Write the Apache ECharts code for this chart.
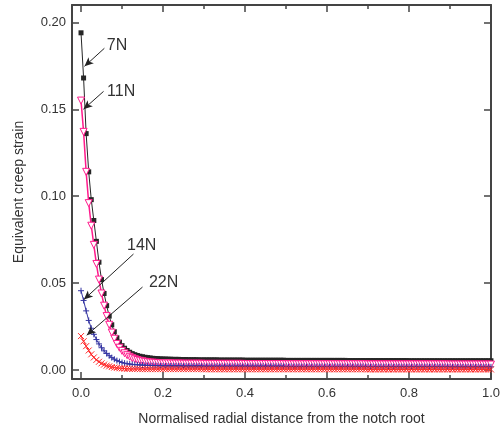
<!DOCTYPE html>
<html>
<head>
<meta charset="utf-8">
<script src="https://cdn.jsdelivr.net/npm/echarts@6/dist/echarts.min.js"></script>
<style>
html,body{margin:0;padding:0;background:#fff;}
#chart{width:503px;height:434px;}
</style>
</head>
<body>
<div id="chart"></div>
<script>
// Normalised radial distance (x) shared by all series
const xs = [
0,0.00625,0.0125,0.01875,0.025,0.03125,0.0375,0.04375,0.05,0.05625,0.0625,0.06875,0.075,0.08125,0.0875,0.09375,
0.1,0.10625,0.1125,0.11875,0.125,0.13125,0.1375,0.14375,0.15,0.15625,0.1625,0.16875,0.175,0.18125,0.1875,0.19375,
0.2,0.20625,0.2125,0.21875,0.225,0.23125,0.2375,0.24375,0.25,0.25625,0.2625,0.26875,0.275,0.28125,0.2875,0.29375,
0.3,0.30625,0.3125,0.31875,0.325,0.33125,0.3375,0.34375,0.35,0.35625,0.3625,0.36875,0.375,0.38125,0.3875,0.39375,
0.4,0.40625,0.4125,0.41875,0.425,0.43125,0.4375,0.44375,0.45,0.45625,0.4625,0.46875,0.475,0.48125,0.4875,0.49375,
0.5,0.50625,0.5125,0.51875,0.525,0.53125,0.5375,0.54375,0.55,0.55625,0.5625,0.56875,0.575,0.58125,0.5875,0.59375,
0.6,0.60625,0.6125,0.61875,0.625,0.63125,0.6375,0.64375,0.65,0.65625,0.6625,0.66875,0.675,0.68125,0.6875,0.69375,
0.7,0.70625,0.7125,0.71875,0.725,0.73125,0.7375,0.74375,0.75,0.75625,0.7625,0.76875,0.775,0.78125,0.7875,0.79375,
0.8,0.80625,0.8125,0.81875,0.825,0.83125,0.8375,0.84375,0.85,0.85625,0.8625,0.86875,0.875,0.88125,0.8875,0.89375,
0.9,0.90625,0.9125,0.91875,0.925,0.93125,0.9375,0.94375,0.95,0.95625,0.9625,0.96875,0.975,0.98125,0.9875,0.99375,
1.0
];

// Equivalent creep strain, 7N
const s7N = [
0.194,0.168,0.136,0.114,0.098,0.086,0.074,0.062,0.052,0.044,0.037,0.031,0.026,0.022,0.0185,0.016,
0.014,0.0125,0.0112,0.0102,0.0094,0.0088,0.0083,0.0079,0.0076,0.0073,0.0071,0.0069,0.0067,0.0066,0.0065,0.0064,
0.0063,0.0063,0.0062,0.0062,0.0061,0.0061,0.0061,0.006,0.006,0.006,0.0059,0.0059,0.0059,0.0059,0.0058,0.0058,
0.0058,0.0058,0.0058,0.0058,0.0058,0.0058,0.0057,0.0057,0.0057,0.0057,0.0057,0.0057,0.0057,0.0057,0.0057,0.0057,
0.0056,0.0056,0.0056,0.0056,0.0056,0.0056,0.0056,0.0056,0.0056,0.0056,0.0056,0.0056,0.0056,0.0056,0.0056,0.0056,
0.0055,0.0055,0.0055,0.0055,0.0055,0.0055,0.0055,0.0055,0.0055,0.0055,0.0055,0.0055,0.0055,0.0055,0.0055,0.0055,
0.0055,0.0055,0.0055,0.0055,0.0055,0.0055,0.0055,0.0055,0.0054,0.0054,0.0054,0.0054,0.0054,0.0054,0.0054,0.0054,
0.0054,0.0054,0.0054,0.0054,0.0054,0.0054,0.0054,0.0054,0.0054,0.0054,0.0054,0.0054,0.0054,0.0054,0.0054,0.0054,
0.0053,0.0053,0.0053,0.0053,0.0053,0.0053,0.0053,0.0053,0.0053,0.0053,0.0053,0.0053,0.0053,0.0053,0.0053,0.0053,
0.0053,0.0053,0.0053,0.0053,0.0053,0.0053,0.0053,0.0053,0.0053,0.0053,0.0053,0.0053,0.0053,0.0053,0.0053,0.0053,
0.0053
];

// Equivalent creep strain, 11N
const s11N = [
0.155,0.137,0.114,0.096,0.083,0.072,0.061,0.052,0.044,0.037,0.031,0.026,0.0215,0.018,0.015,0.0128,
0.011,0.0096,0.0085,0.0076,0.0068,0.0062,0.0057,0.0053,0.005,0.0047,0.0045,0.0043,0.0042,0.0041,0.004,0.0039,
0.0038,0.0038,0.0038,0.0038,0.0037,0.0037,0.0037,0.0037,0.0036,0.0036,0.0036,0.0036,0.0036,0.0036,0.0036,0.0036,
0.0035,0.0035,0.0035,0.0035,0.0035,0.0035,0.0035,0.0035,0.0035,0.0035,0.0035,0.0035,0.0035,0.0035,0.0035,0.0035,
0.0034,0.0034,0.0034,0.0034,0.0034,0.0034,0.0034,0.0034,0.0034,0.0034,0.0034,0.0034,0.0034,0.0034,0.0034,0.0034,
0.0033,0.0033,0.0033,0.0033,0.0033,0.0033,0.0033,0.0033,0.0033,0.0033,0.0033,0.0033,0.0033,0.0033,0.0033,0.0033,
0.0033,0.0033,0.0033,0.0033,0.0033,0.0033,0.0033,0.0033,0.0033,0.0033,0.0033,0.0033,0.0033,0.0033,0.0033,0.0033,
0.0032,0.0032,0.0032,0.0032,0.0032,0.0032,0.0032,0.0032,0.0032,0.0032,0.0032,0.0032,0.0032,0.0032,0.0032,0.0032,
0.0032,0.0032,0.0032,0.0032,0.0032,0.0032,0.0032,0.0032,0.0032,0.0032,0.0032,0.0032,0.0032,0.0032,0.0032,0.0032,
0.0031,0.0031,0.0031,0.0031,0.0031,0.0031,0.0031,0.0031,0.0031,0.0031,0.0031,0.0031,0.0031,0.0031,0.0031,0.0031,
0.0031
];

// Equivalent creep strain, 14N
const s14N = [
0.0456,0.040,0.034,0.0285,0.024,0.0205,0.0175,0.015,0.0128,0.011,0.0095,0.0082,0.0071,0.0062,0.0054,0.0048,
0.0043,0.0039,0.0036,0.0034,0.0032,0.0031,0.003,0.0029,0.0028,0.0027,0.0026,0.0026,0.0025,0.0025,0.0024,0.0024,
0.0023,0.0023,0.0023,0.0023,0.0023,0.0023,0.0023,0.0023,0.0022,0.0022,0.0022,0.0022,0.0022,0.0022,0.0022,0.0022,
0.0021,0.0021,0.0021,0.0021,0.0021,0.0021,0.0021,0.0021,0.0021,0.0021,0.0021,0.0021,0.0021,0.0021,0.0021,0.0021,
0.0021,0.0021,0.0021,0.0021,0.0021,0.0021,0.0021,0.0021,0.0021,0.0021,0.0021,0.0021,0.0021,0.0021,0.0021,0.0021,
0.002,0.002,0.002,0.002,0.002,0.002,0.002,0.002,0.002,0.002,0.002,0.002,0.002,0.002,0.002,0.002,
0.002,0.002,0.002,0.002,0.002,0.002,0.002,0.002,0.002,0.002,0.002,0.002,0.002,0.002,0.002,0.002,
0.0019,0.0019,0.0019,0.0019,0.0019,0.0019,0.0019,0.0019,0.0019,0.0019,0.0019,0.0019,0.0019,0.0019,0.0019,0.0019,
0.0019,0.0019,0.0019,0.0019,0.0019,0.0019,0.0019,0.0019,0.0019,0.0019,0.0019,0.0019,0.0019,0.0019,0.0019,0.0019,
0.0018,0.0018,0.0018,0.0018,0.0018,0.0018,0.0018,0.0018,0.0018,0.0018,0.0018,0.0018,0.0018,0.0018,0.0018,0.0018,
0.0018
];

// Equivalent creep strain, 22N
const s22N = [
0.0195,0.0165,0.0137,0.0112,0.009,0.0072,0.0058,0.0047,0.0038,0.0031,0.0025,0.0021,0.0017,0.0014,0.0012,0.001,
0.0009,0.0008,0.0007,0.0007,0.0006,0.0006,0.0006,0.0005,0.0005,0.0005,0.0005,0.0005,0.0005,0.0005,0.0005,0.0005,
0.0005,0.0005,0.0005,0.0005,0.0005,0.0005,0.0005,0.0005,0.0005,0.0005,0.0005,0.0005,0.0005,0.0005,0.0005,0.0005,
0.0004,0.0004,0.0004,0.0004,0.0004,0.0004,0.0004,0.0004,0.0004,0.0004,0.0004,0.0004,0.0004,0.0004,0.0004,0.0004,
0.0004,0.0004,0.0004,0.0004,0.0004,0.0004,0.0004,0.0004,0.0004,0.0004,0.0004,0.0004,0.0004,0.0004,0.0004,0.0004,
0.0004,0.0004,0.0004,0.0004,0.0004,0.0004,0.0004,0.0004,0.0004,0.0004,0.0004,0.0004,0.0004,0.0004,0.0004,0.0004,
0.0004,0.0004,0.0004,0.0004,0.0004,0.0004,0.0004,0.0004,0.0004,0.0004,0.0004,0.0004,0.0004,0.0004,0.0004,0.0004,
0.0003,0.0003,0.0003,0.0003,0.0003,0.0003,0.0003,0.0003,0.0003,0.0003,0.0003,0.0003,0.0003,0.0003,0.0003,0.0003,
0.0003,0.0003,0.0003,0.0003,0.0003,0.0003,0.0003,0.0003,0.0003,0.0003,0.0003,0.0003,0.0003,0.0003,0.0003,0.0003,
0.0003,0.0003,0.0003,0.0003,0.0003,0.0003,0.0003,0.0003,0.0003,0.0003,0.0003,0.0003,0.0003,0.0003,0.0003,0.0003,
0.0003
];

// Tick values
const xMajorTicks = [0, 0.2, 0.4, 0.6, 0.8, 1.0];
const xMinorTicks = [0.1, 0.3, 0.5, 0.7, 0.9];
const yMajorTicks = [0, 0.05, 0.1, 0.15, 0.2];

// Annotation labels (data coordinates)
const noteLabels = ['7N', '11N', '14N', '22N'];
const noteText = [[0.088, 0.1868], [0.098, 0.1603], [0.148, 0.0718], [0.2015, 0.0500]];
const noteFrom = [[0.057, 0.1851], [0.055, 0.1603], [0.128, 0.0667], [0.150, 0.0477]];
const noteTo   = [[0.0085, 0.1747], [0.006, 0.1500], [0.007, 0.0405], [0.014, 0.0200]];

const AX = '#444';
const TXT = '#333';
const FONT = 'Liberation Sans, Arial, sans-serif';

function pairs(ys) { return xs.map((x, i) => [x, ys[i]]); }

const chart = echarts.init(document.getElementById('chart'), null, {renderer: 'canvas'});

function xAxisCfg(pos, ticks, len, showLine, showLabel, extra) {
  return Object.assign({
    type: 'value', position: pos, min: -0.022, max: 1.0,
    axisLine: {show: showLine, onZero: false, lineStyle: {color: AX, width: 2}},
    axisTick: {show: true, inside: true, length: len, customValues: ticks, lineStyle: {color: AX, width: 1.5}},
    axisLabel: {show: showLabel, customValues: ticks, formatter: v => v.toFixed(1), fontSize: 13, color: TXT, margin: 8, fontFamily: FONT},
    splitLine: {show: false}
  }, extra || {});
}

const option = {
  animation: false,
  backgroundColor: '#fff',
  grid: {left: 72, top: 5, right: 10, bottom: 55, containLabel: false},
  xAxis: [
    xAxisCfg('bottom', xMajorTicks, 7, true, true, {
      name: 'Normalised radial distance from the notch root', nameLocation: 'middle', nameGap: 33,
      nameTextStyle: {fontSize: 14, color: TXT, fontFamily: FONT}
    }),
    xAxisCfg('bottom', xMinorTicks, 4, false, false),
    xAxisCfg('top', xMajorTicks, 7, true, false),
    xAxisCfg('top', xMinorTicks, 4, false, false)
  ],
  yAxis: [
    {
      type: 'value', position: 'left', min: -0.0052, max: 0.21,
      axisLine: {show: true, onZero: false, lineStyle: {color: AX, width: 2}},
      axisTick: {show: true, inside: true, length: 7, customValues: yMajorTicks, lineStyle: {color: AX, width: 1.5}},
      axisLabel: {customValues: yMajorTicks, formatter: v => v.toFixed(2), fontSize: 13, color: TXT, margin: 6, fontFamily: FONT},
      splitLine: {show: false},
      name: 'Equivalent creep strain', nameLocation: 'middle', nameGap: 46,
      nameTextStyle: {fontSize: 14, color: TXT, fontFamily: FONT}
    },
    {
      type: 'value', position: 'right', min: -0.0052, max: 0.21,
      axisLine: {show: true, onZero: false, lineStyle: {color: AX, width: 2}},
      axisTick: {show: true, inside: true, length: 7, customValues: yMajorTicks, lineStyle: {color: AX, width: 1.5}},
      axisLabel: {show: false},
      splitLine: {show: false}
    }
  ],
  series: [
    {
      name: '7N', type: 'line', data: pairs(s7N),
      symbol: 'rect', symbolSize: 5,
      lineStyle: {color: '#262626', width: 1},
      itemStyle: {color: '#262626'},
      z: 2,
      markLine: {
        silent: true, symbol: ['none', 'arrow'], symbolSize: [6, 9],
        lineStyle: {color: '#222', width: 1, type: 'solid'},
        label: {show: false},
        data: noteFrom.map((f, i) => [{coord: f}, {coord: noteTo[i]}])
      },
      markPoint: {
        silent: true, symbol: 'circle', symbolSize: 1,
        itemStyle: {color: 'rgba(0,0,0,0)'},
        label: {show: true, position: 'inside', formatter: '{b}', fontSize: 16, color: TXT, fontFamily: FONT},
        data: noteText.map((t, i) => ({name: noteLabels[i], coord: t}))
      }
    },
    {
      name: '11N', type: 'line', data: pairs(s11N),
      symbol: 'triangle', symbolRotate: 180, symbolSize: 7,
      lineStyle: {color: '#ff1a8c', width: 1.5},
      itemStyle: {color: '#ffffff', borderColor: '#ff1a8c', borderWidth: 1},
      z: 3
    },
    {
      name: '14N', type: 'line', data: pairs(s14N),
      symbol: 'path://M5,0L5,10M0,5L10,5', symbolSize: 6,
      lineStyle: {color: '#3434a2', width: 1},
      itemStyle: {color: 'none', borderColor: '#3434a2', borderWidth: 1},
      z: 4
    },
    {
      name: '22N', type: 'line', data: pairs(s22N),
      symbol: 'path://M0,0L10,10M10,0L0,10', symbolSize: 6,
      lineStyle: {color: '#ff2a2a', width: 1},
      itemStyle: {color: 'none', borderColor: '#ff2a2a', borderWidth: 1},
      z: 5
    }
  ]
};
chart.setOption(option);
</script>
</body>
</html>
